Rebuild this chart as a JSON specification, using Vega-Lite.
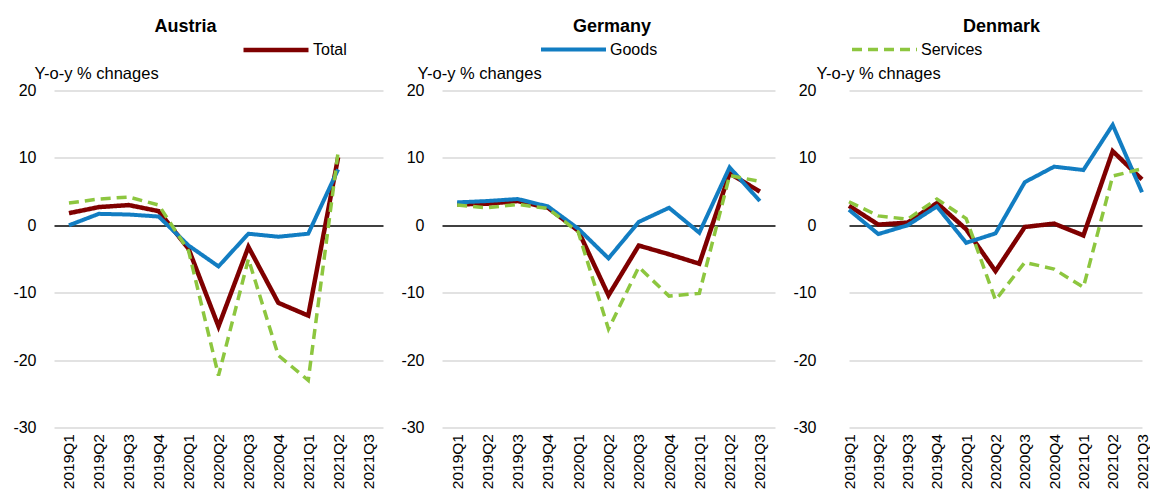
{
  "$schema": "https://vega.github.io/schema/vega-lite/v6.json",
  "background": "white",
  "padding": {"left": 12, "top": 14.5, "right": 0, "bottom": 0},
  "spacing": 17,
  "datasets": {
    "trade": [
      {"country": "Austria", "quarter": "2019Q1", "series": "Total", "value": 1.8},
      {"country": "Austria", "quarter": "2019Q2", "series": "Total", "value": 2.7},
      {"country": "Austria", "quarter": "2019Q3", "series": "Total", "value": 3.0},
      {"country": "Austria", "quarter": "2019Q4", "series": "Total", "value": 2.1},
      {"country": "Austria", "quarter": "2020Q1", "series": "Total", "value": -3.5},
      {"country": "Austria", "quarter": "2020Q2", "series": "Total", "value": -15.0},
      {"country": "Austria", "quarter": "2020Q3", "series": "Total", "value": -3.2},
      {"country": "Austria", "quarter": "2020Q4", "series": "Total", "value": -11.5},
      {"country": "Austria", "quarter": "2021Q1", "series": "Total", "value": -13.4},
      {"country": "Austria", "quarter": "2021Q2", "series": "Total", "value": 10.1},
      {"country": "Austria", "quarter": "2019Q1", "series": "Goods", "value": 0.0},
      {"country": "Austria", "quarter": "2019Q2", "series": "Goods", "value": 1.7},
      {"country": "Austria", "quarter": "2019Q3", "series": "Goods", "value": 1.6},
      {"country": "Austria", "quarter": "2019Q4", "series": "Goods", "value": 1.3},
      {"country": "Austria", "quarter": "2020Q1", "series": "Goods", "value": -3.0},
      {"country": "Austria", "quarter": "2020Q2", "series": "Goods", "value": -6.1},
      {"country": "Austria", "quarter": "2020Q3", "series": "Goods", "value": -1.25},
      {"country": "Austria", "quarter": "2020Q4", "series": "Goods", "value": -1.7},
      {"country": "Austria", "quarter": "2021Q1", "series": "Goods", "value": -1.25},
      {"country": "Austria", "quarter": "2021Q2", "series": "Goods", "value": 8.3},
      {"country": "Austria", "quarter": "2019Q1", "series": "Services", "value": 3.3},
      {"country": "Austria", "quarter": "2019Q2", "series": "Services", "value": 3.9},
      {"country": "Austria", "quarter": "2019Q3", "series": "Services", "value": 4.2},
      {"country": "Austria", "quarter": "2019Q4", "series": "Services", "value": 3.0},
      {"country": "Austria", "quarter": "2020Q1", "series": "Services", "value": -3.8},
      {"country": "Austria", "quarter": "2020Q2", "series": "Services", "value": -22.3},
      {"country": "Austria", "quarter": "2020Q3", "series": "Services", "value": -5.0},
      {"country": "Austria", "quarter": "2020Q4", "series": "Services", "value": -19.3},
      {"country": "Austria", "quarter": "2021Q1", "series": "Services", "value": -23.0},
      {"country": "Austria", "quarter": "2021Q2", "series": "Services", "value": 10.9},

      {"country": "Germany", "quarter": "2019Q1", "series": "Total", "value": 3.1},
      {"country": "Germany", "quarter": "2019Q2", "series": "Total", "value": 3.2},
      {"country": "Germany", "quarter": "2019Q3", "series": "Total", "value": 3.6},
      {"country": "Germany", "quarter": "2019Q4", "series": "Total", "value": 2.6},
      {"country": "Germany", "quarter": "2020Q1", "series": "Total", "value": -0.8},
      {"country": "Germany", "quarter": "2020Q2", "series": "Total", "value": -10.4},
      {"country": "Germany", "quarter": "2020Q3", "series": "Total", "value": -3.0},
      {"country": "Germany", "quarter": "2020Q4", "series": "Total", "value": -4.3},
      {"country": "Germany", "quarter": "2021Q1", "series": "Total", "value": -5.7},
      {"country": "Germany", "quarter": "2021Q2", "series": "Total", "value": 7.7},
      {"country": "Germany", "quarter": "2021Q3", "series": "Total", "value": 5.0},
      {"country": "Germany", "quarter": "2019Q1", "series": "Goods", "value": 3.4},
      {"country": "Germany", "quarter": "2019Q2", "series": "Goods", "value": 3.6},
      {"country": "Germany", "quarter": "2019Q3", "series": "Goods", "value": 3.9},
      {"country": "Germany", "quarter": "2019Q4", "series": "Goods", "value": 2.8},
      {"country": "Germany", "quarter": "2020Q1", "series": "Goods", "value": -0.5},
      {"country": "Germany", "quarter": "2020Q2", "series": "Goods", "value": -4.9},
      {"country": "Germany", "quarter": "2020Q3", "series": "Goods", "value": 0.5},
      {"country": "Germany", "quarter": "2020Q4", "series": "Goods", "value": 2.6},
      {"country": "Germany", "quarter": "2021Q1", "series": "Goods", "value": -1.1},
      {"country": "Germany", "quarter": "2021Q2", "series": "Goods", "value": 8.6},
      {"country": "Germany", "quarter": "2021Q3", "series": "Goods", "value": 3.6},
      {"country": "Germany", "quarter": "2019Q1", "series": "Services", "value": 3.0},
      {"country": "Germany", "quarter": "2019Q2", "series": "Services", "value": 2.6},
      {"country": "Germany", "quarter": "2019Q3", "series": "Services", "value": 3.1},
      {"country": "Germany", "quarter": "2019Q4", "series": "Services", "value": 2.5},
      {"country": "Germany", "quarter": "2020Q1", "series": "Services", "value": -1.0},
      {"country": "Germany", "quarter": "2020Q2", "series": "Services", "value": -15.4},
      {"country": "Germany", "quarter": "2020Q3", "series": "Services", "value": -6.2},
      {"country": "Germany", "quarter": "2020Q4", "series": "Services", "value": -10.5},
      {"country": "Germany", "quarter": "2021Q1", "series": "Services", "value": -10.1},
      {"country": "Germany", "quarter": "2021Q2", "series": "Services", "value": 7.4},
      {"country": "Germany", "quarter": "2021Q3", "series": "Services", "value": 6.5},

      {"country": "Denmark", "quarter": "2019Q1", "series": "Total", "value": 2.9},
      {"country": "Denmark", "quarter": "2019Q2", "series": "Total", "value": 0.1},
      {"country": "Denmark", "quarter": "2019Q3", "series": "Total", "value": 0.4},
      {"country": "Denmark", "quarter": "2019Q4", "series": "Total", "value": 3.3},
      {"country": "Denmark", "quarter": "2020Q1", "series": "Total", "value": -0.6},
      {"country": "Denmark", "quarter": "2020Q2", "series": "Total", "value": -6.8},
      {"country": "Denmark", "quarter": "2020Q3", "series": "Total", "value": -0.25},
      {"country": "Denmark", "quarter": "2020Q4", "series": "Total", "value": 0.25},
      {"country": "Denmark", "quarter": "2021Q1", "series": "Total", "value": -1.5},
      {"country": "Denmark", "quarter": "2021Q2", "series": "Total", "value": 11.0},
      {"country": "Denmark", "quarter": "2021Q3", "series": "Total", "value": 6.8},
      {"country": "Denmark", "quarter": "2019Q1", "series": "Goods", "value": 2.3},
      {"country": "Denmark", "quarter": "2019Q2", "series": "Goods", "value": -1.3},
      {"country": "Denmark", "quarter": "2019Q3", "series": "Goods", "value": 0.0},
      {"country": "Denmark", "quarter": "2019Q4", "series": "Goods", "value": 2.8},
      {"country": "Denmark", "quarter": "2020Q1", "series": "Goods", "value": -2.6},
      {"country": "Denmark", "quarter": "2020Q2", "series": "Goods", "value": -1.2},
      {"country": "Denmark", "quarter": "2020Q3", "series": "Goods", "value": 6.4},
      {"country": "Denmark", "quarter": "2020Q4", "series": "Goods", "value": 8.7},
      {"country": "Denmark", "quarter": "2021Q1", "series": "Goods", "value": 8.2},
      {"country": "Denmark", "quarter": "2021Q2", "series": "Goods", "value": 14.9},
      {"country": "Denmark", "quarter": "2021Q3", "series": "Goods", "value": 4.9},
      {"country": "Denmark", "quarter": "2019Q1", "series": "Services", "value": 3.5},
      {"country": "Denmark", "quarter": "2019Q2", "series": "Services", "value": 1.4},
      {"country": "Denmark", "quarter": "2019Q3", "series": "Services", "value": 0.9},
      {"country": "Denmark", "quarter": "2019Q4", "series": "Services", "value": 3.9},
      {"country": "Denmark", "quarter": "2020Q1", "series": "Services", "value": 1.0},
      {"country": "Denmark", "quarter": "2020Q2", "series": "Services", "value": -11.1},
      {"country": "Denmark", "quarter": "2020Q3", "series": "Services", "value": -5.5},
      {"country": "Denmark", "quarter": "2020Q4", "series": "Services", "value": -6.5},
      {"country": "Denmark", "quarter": "2021Q1", "series": "Services", "value": -9.2},
      {"country": "Denmark", "quarter": "2021Q2", "series": "Services", "value": 7.3},
      {"country": "Denmark", "quarter": "2021Q3", "series": "Services", "value": 8.4}
    ]
  },
  "data": {"name": "trade"},
  "resolve": {
    "scale": {"x": "independent", "y": "independent", "color": "independent", "strokeDash": "independent", "strokeWidth": "independent"},
    "legend": {"color": "independent"}
  },
  "hconcat": [
    {
      "width": 329,
      "height": 337,
      "title": {"text": "Austria", "dx": -33},
      "transform": [{"filter": "datum.country === 'Austria'"}],
      "mark": {"type": "line", "strokeCap": "butt"},
      "encoding": {
        "x": {"field": "quarter", "type": "ordinal", "title": null,
          "scale": {"type": "point", "padding": 0.5, "domain": ["2019Q1","2019Q2","2019Q3","2019Q4","2020Q1","2020Q2","2020Q3","2020Q4","2021Q1","2021Q2","2021Q3"]}},
        "y": {"field": "value", "type": "quantitative",
          "scale": {"domain": [-30, 20], "nice": false},
          "axis": {"values": [-30, -20, -10, 0, 10, 20], "title": "Y-o-y % chnages", "titleX": -20, "titleY": -11.7}},
        "color": {"field": "series", "type": "nominal",
          "scale": {"domain": ["Total", "Goods", "Services"], "range": ["#7f0000", "#127dc2", "#8dc63f"]},
          "legend": {"values": ["Total"], "orient": "none", "legendX": 187, "legendY": -75.5, "symbolStrokeWidth": 5}},
        "strokeDash": {"field": "series", "type": "nominal",
          "scale": {"domain": ["Total", "Goods", "Services"], "range": [[1, 0], [1, 0], [10, 6]]}, "legend": null},
        "strokeWidth": {"field": "series", "type": "nominal",
          "scale": {"domain": ["Total", "Goods", "Services"], "range": [4.5, 3.5, 3.5]}, "legend": null}
      }
    },
    {
      "width": 333,
      "height": 337,
      "title": {"text": "Germany", "dx": 3.5},
      "transform": [{"filter": "datum.country === 'Germany'"}],
      "mark": {"type": "line", "strokeCap": "butt"},
      "encoding": {
        "x": {"field": "quarter", "type": "ordinal", "title": null,
          "scale": {"type": "point", "padding": 0.5, "domain": ["2019Q1","2019Q2","2019Q3","2019Q4","2020Q1","2020Q2","2020Q3","2020Q4","2021Q1","2021Q2","2021Q3"]}},
        "y": {"field": "value", "type": "quantitative",
          "scale": {"domain": [-30, 20], "nice": false},
          "axis": {"values": [-30, -20, -10, 0, 10, 20], "title": "Y-o-y % changes", "titleX": -25, "titleY": -11.7}},
        "color": {"field": "series", "type": "nominal",
          "scale": {"domain": ["Total", "Goods", "Services"], "range": ["#7f0000", "#127dc2", "#8dc63f"]},
          "legend": {"values": ["Goods"], "orient": "none", "legendX": 97, "legendY": -75.5, "symbolStrokeWidth": 4}},
        "strokeDash": {"field": "series", "type": "nominal",
          "scale": {"domain": ["Total", "Goods", "Services"], "range": [[1, 0], [1, 0], [10, 6]]}, "legend": null},
        "strokeWidth": {"field": "series", "type": "nominal",
          "scale": {"domain": ["Total", "Goods", "Services"], "range": [4.5, 3.5, 3.5]}, "legend": null}
      }
    },
    {
      "width": 319,
      "height": 337,
      "title": {"text": "Denmark", "dx": 8},
      "transform": [{"filter": "datum.country === 'Denmark'"}],
      "mark": {"type": "line", "strokeCap": "butt"},
      "encoding": {
        "x": {"field": "quarter", "type": "ordinal", "title": null,
          "scale": {"type": "point", "padding": 0, "range": [15, 308], "domain": ["2019Q1","2019Q2","2019Q3","2019Q4","2020Q1","2020Q2","2020Q3","2020Q4","2021Q1","2021Q2","2021Q3"]}},
        "y": {"field": "value", "type": "quantitative",
          "scale": {"domain": [-30, 20], "nice": false},
          "axis": {"values": [-30, -20, -10, 0, 10, 20], "title": "Y-o-y % chnages", "titleX": -18, "titleY": -11.7}},
        "color": {"field": "series", "type": "nominal",
          "scale": {"domain": ["Total", "Goods", "Services"], "range": ["#7f0000", "#127dc2", "#8dc63f"]},
          "legend": {"values": ["Services"], "orient": "none", "legendX": 16, "legendY": -75.5, "symbolStrokeWidth": 4, "symbolDash": [10, 6]}},
        "strokeDash": {"field": "series", "type": "nominal",
          "scale": {"domain": ["Total", "Goods", "Services"], "range": [[1, 0], [1, 0], [10, 6]]}, "legend": null},
        "strokeWidth": {"field": "series", "type": "nominal",
          "scale": {"domain": ["Total", "Goods", "Services"], "range": [4.5, 3.5, 3.5]}, "legend": null}
      }
    }
  ],
  "config": {
    "font": "Liberation Sans",
    "view": {"stroke": null},
    "title": {"fontSize": 18, "fontWeight": "bold", "color": "#000", "font": "Liberation Sans", "frame": "group", "baseline": "alphabetic", "offset": -20.5},
    "axisX": {"labelAngle": -90, "labelAlign": "right", "labelBaseline": "middle", "labelFontSize": 15.5, "labelPadding": 6, "ticks": false, "domain": false, "grid": false, "labelColor": "#000"},
    "axisY": {"labelFontSize": 16, "labelPadding": 18, "ticks": false, "domain": false, "labelColor": "#000",
      "labelExpr": "'' + datum.value",
      "gridColor": {"condition": {"test": "datum.value === 0", "value": "#000000"}, "value": "#d9d9d9"},
      "gridWidth": 1.6,
      "titleAngle": 0, "titleAlign": "left", "titleBaseline": "alphabetic", "titleFontWeight": "normal", "titleFontSize": 16.5, "titleColor": "#000"},
    "legend": {"title": null, "symbolType": "stroke", "symbolSize": 4225, "labelFontSize": 16, "labelOffset": 2, "padding": 0, "labelColor": "#000"}
  }
}
